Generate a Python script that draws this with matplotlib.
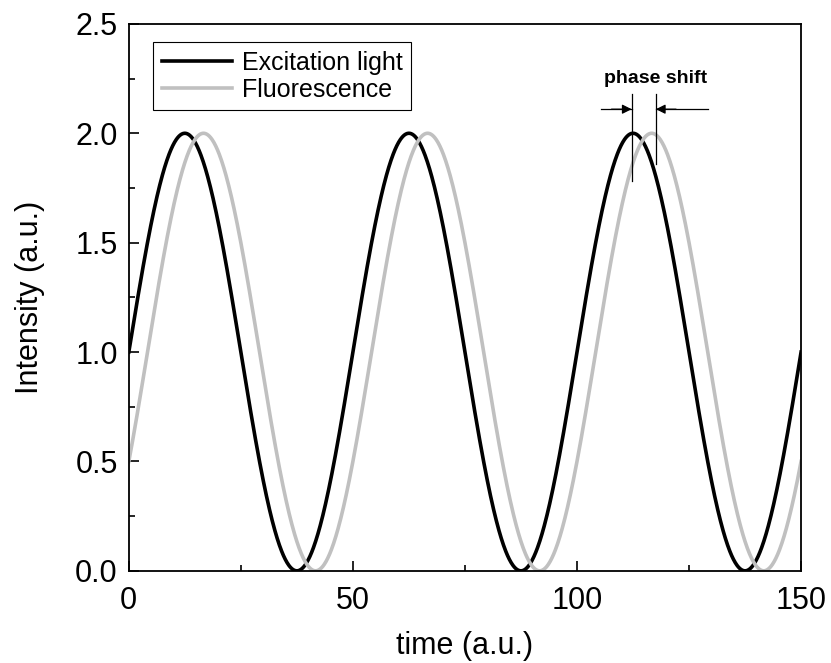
import numpy as np
import matplotlib.pyplot as plt
from matplotlib.ticker import MultipleLocator

plt.rcParams['font.family'] = 'Liberation Sans'
plt.rcParams['xtick.direction'] = 'in'
plt.rcParams['ytick.direction'] = 'in'

# values
period = 50.0          # time units per cycle
offset = 1.0           # mean intensity
amplitude = 1.0        # half of peak-to-peak
phase_lag = 50.0 / 12  # fluorescence delay (starts at 0.5 at t=0)
t_end = 150.0

# phase shift marker as drawn in the picture
marker_x = [112.2, 117.6]
marker_ybottom = [1.78, 1.86]
marker_ytop = 2.18
marker_yarrow = 2.11
marker_xspan = [105.4, 129.2]
marker_text_x = 117.5

labels = ["Excitation light", "Fluorescence"]
colors = ["black", "#c0c0c0"]

t = np.linspace(0, t_end, 1501)
excitation = offset + amplitude * np.sin(2 * np.pi * t / period)
fluorescence = offset + amplitude * np.sin(2 * np.pi * (t - phase_lag) / period)

fig = plt.figure(figsize=(8.31, 6.63), dpi=100)
ax = fig.add_axes([0.155, 0.139, 0.809, 0.825])

ax.plot(t, excitation, color=colors[0], lw=2.6, label=labels[0])
ax.plot(t, fluorescence, color=colors[1], lw=2.6, label=labels[1])

x1, x2 = marker_x
ax.plot([x1, x1], [marker_ybottom[0], marker_ytop], color='black', lw=0.9)
ax.plot([x2, x2], [marker_ybottom[1], marker_ytop], color='black', lw=0.9)
ax.plot([marker_xspan[0], x1], [marker_yarrow] * 2, color='black', lw=0.9)
ax.plot([x2, marker_xspan[1]], [marker_yarrow] * 2, color='black', lw=0.9)
ax.annotate('', xy=(x1, marker_yarrow), xytext=(x1 - 4.5, marker_yarrow),
            arrowprops=dict(arrowstyle='-|>', color='black', lw=0.9, mutation_scale=14, shrinkA=0, shrinkB=0))
ax.annotate('', xy=(x2, marker_yarrow), xytext=(x2 + 4.5, marker_yarrow),
            arrowprops=dict(arrowstyle='-|>', color='black', lw=0.9, mutation_scale=14, shrinkA=0, shrinkB=0))
ax.text(marker_text_x, 2.21, 'phase shift', ha='center', va='bottom', fontsize=14, fontweight='bold')

ax.set_xlim(0, t_end)
ax.set_ylim(0, 2.5)
ax.xaxis.set_major_locator(MultipleLocator(50))
ax.xaxis.set_minor_locator(MultipleLocator(25))
ax.yaxis.set_major_locator(MultipleLocator(0.5))
ax.yaxis.set_minor_locator(MultipleLocator(0.25))
ax.yaxis.set_major_formatter(plt.FormatStrFormatter('%.1f'))
ax.tick_params(which='major', length=7, width=1.2, labelsize=22, top=False, right=False, pad=8)
ax.tick_params(axis='x', which='major', pad=11)
ax.tick_params(which='minor', length=4, width=1.2, top=False, right=False)
for s in ax.spines.values():
    s.set_linewidth(1.3)

ax.set_xlabel('time (a.u.)', fontsize=22, labelpad=11)
ax.set_ylabel('Intensity (a.u.)', fontsize=22, labelpad=22)

leg = ax.legend(loc='upper left', bbox_to_anchor=(0.036, 0.966), borderaxespad=0, fontsize=18,
                fancybox=False, edgecolor='black', framealpha=1,
                handlelength=2.8, handletextpad=0.4, borderpad=0.35, labelspacing=0.1)
leg.get_frame().set_linewidth(0.8)

plt.savefig('out.png', dpi=100)
